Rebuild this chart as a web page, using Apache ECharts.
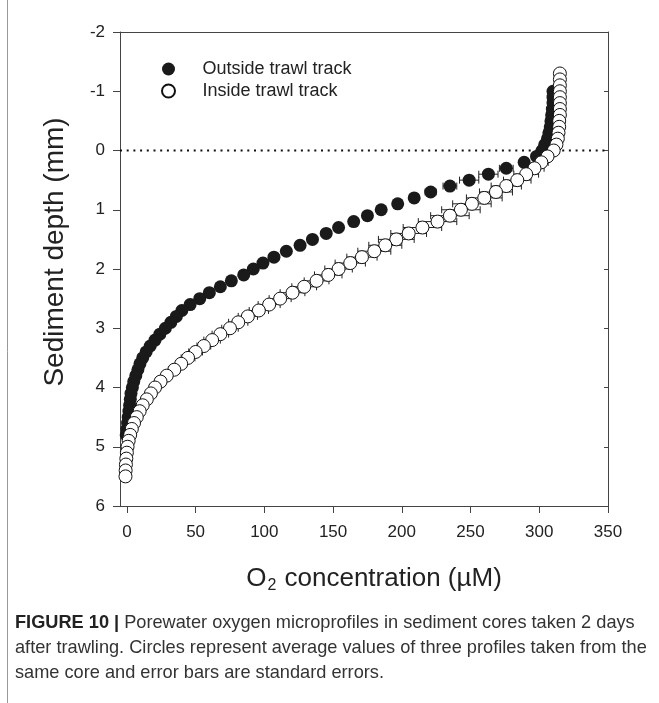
<!DOCTYPE html>
<html>
<head>
<meta charset="utf-8">
<script src="https://cdn.jsdelivr.net/npm/echarts@6/dist/echarts.min.js"></script>
<style>
	html, body { margin: 0; padding: 0; background: #fff; }
	#chart { width: 659px; height: 703px; }
</style>
</head>
<body>
<div id="chart"></div>
<script>
	// depth (mm) and O2 (µM), one point per 0.1 mm
	var outsideDepth = [-1.0, -0.9, -0.8, -0.7, -0.6, -0.5, -0.4, -0.3, -0.2, -0.1,
		0.0, 0.1, 0.2, 0.3, 0.4, 0.5, 0.6, 0.7, 0.8, 0.9,
		1.0, 1.1, 1.2, 1.3, 1.4, 1.5, 1.6, 1.7, 1.8, 1.9,
		2.0, 2.1, 2.2, 2.3, 2.4, 2.5, 2.6, 2.7, 2.8, 2.9,
		3.0, 3.1, 3.2, 3.3, 3.4, 3.5, 3.6, 3.7, 3.8, 3.9,
		4.0, 4.1, 4.2, 4.3, 4.4, 4.5, 4.6, 4.7, 4.8]
	var outsideO2 = [310, 310, 310, 309.5, 309, 308.5, 308, 307, 306, 304,
		302, 298, 289, 276, 263, 249, 235, 221, 209, 197,
		185, 175, 165, 154, 145, 135, 126, 116, 107, 99,
		92, 85, 76, 68, 60, 53, 46, 40, 36, 32,
		28, 24, 20.5, 17, 14, 11.5, 9.5, 8, 6.5, 5,
		4, 3, 2.5, 2, 1.5, 1, 0.5, 0, -0.5]
	var outsideErr = [1, 1, 1, 1, 1, 1, 1, 1, 1, 1,
		1, 2, 3, 5, 7, 7, 5, 4, 3, 3,
		3, 3, 3, 3, 3, 3, 3, 3, 3, 3,
		2, 2, 2, 2, 2, 2, 2, 2, 2, 2,
		2, 2, 2, 2, 2, 2, 1, 1, 1, 1,
		1, 1, 1, 1, 1, 1, 1, 1, 1]

	var insideDepth = [-1.3, -1.2, -1.1, -1.0, -0.9, -0.8, -0.7, -0.6, -0.5, -0.4,
		-0.3, -0.2, -0.1, 0.0, 0.1, 0.2, 0.3, 0.4, 0.5, 0.6,
		0.7, 0.8, 0.9, 1.0, 1.1, 1.2, 1.3, 1.4, 1.5, 1.6,
		1.7, 1.8, 1.9, 2.0, 2.1, 2.2, 2.3, 2.4, 2.5, 2.6,
		2.7, 2.8, 2.9, 3.0, 3.1, 3.2, 3.3, 3.4, 3.5, 3.6,
		3.7, 3.8, 3.9, 4.0, 4.1, 4.2, 4.3, 4.4, 4.5, 4.6,
		4.7, 4.8, 4.9, 5.0, 5.1, 5.2, 5.3, 5.4, 5.5]
	var insideO2 = [315, 315, 315, 315, 315, 315, 315, 315, 314.5, 314.5,
		314, 313.5, 312.5, 310.5, 306, 301.5, 296.5, 290.5, 284, 276,
		268.5, 260, 251, 243, 235, 226, 215, 205, 196, 188,
		180, 171, 162.5, 154, 146.5, 138, 129, 120.5, 111.5, 103.5,
		96, 88, 81, 75, 68, 62, 56, 50, 44.5, 39.5,
		34.5, 29, 24.5, 20.5, 17.5, 14.5, 11.5, 9.3, 7.2, 5.2,
		3.6, 2.4, 1.3, 0.5, 0, -0.4, -0.7, -0.9, -1]
	var insideErr = [1, 1, 1, 1, 1, 1, 1, 1, 1, 1,
		1.5, 1.5, 2, 2.5, 3, 5, 7, 9, 10, 11,
		12, 13, 14, 14, 14, 14, 14, 13, 13, 12,
		12, 11, 11, 10, 10, 9, 9, 9, 8, 8,
		7, 7, 7, 6, 6, 6, 5, 5, 5, 4,
		4, 3.5, 3, 3, 3, 2, 2, 2, 2, 2,
		2, 2, 2, 1, 1, 1, 1, 1, 1]

	var xTicks = [0, 50, 100, 150, 200, 250, 300, 350]
	var seriesNames = ['Outside trawl track', 'Inside trawl track']
	var captionLines = [
		['FIGURE 10 |', ' Porewater oxygen microprofiles in sediment cores taken 2 days'],
		['', 'after trawling. Circles represent average values of three profiles taken from the'],
		['', 'same core and error bars are standard errors.']
	]

	var font = 'Liberation Sans, Arial, sans-serif'

	function pts(xs, ys, es) {
		return ys.map(function (d, i) { return [xs[i], d, es[i]] })
	}

	function errorBars(params, api) {
		var v = api.value(0), d = api.value(1), e = api.value(2)
		var l = api.coord([v - e, d])
		var r = api.coord([v + e, d])
		var h = 3.5
		var st = { stroke: '#222', lineWidth: 1 }
		return {
			type: 'group',
			children: [
				{ type: 'line', shape: { x1: l[0], y1: l[1], x2: r[0], y2: r[1] }, style: st },
				{ type: 'line', shape: { x1: l[0], y1: l[1] - h, x2: l[0], y2: l[1] + h }, style: st },
				{ type: 'line', shape: { x1: r[0], y1: r[1] - h, x2: r[0], y2: r[1] + h }, style: st }
			]
		}
	}

	var captionGraphics = [{
		type: 'line',
		shape: { x1: 7.5, y1: 0, x2: 7.5, y2: 703 },
		style: { stroke: '#999', lineWidth: 1 }
	}]
	captionLines.forEach(function (ln, i) {
		captionGraphics.push({
			type: 'text',
			left: 15,
			top: 614 + i * 25,
			style: {
				text: (ln[0] ? '{b|' + ln[0] + '}' : '') + '{r|' + ln[1] + '}',
				rich: {
					b: { fontFamily: font, fontSize: 18.2, fontWeight: 'bold', fill: '#222' },
					r: { fontFamily: font, fontSize: 18.2, fill: '#333' }
				}
			}
		})
	})

	var chart = echarts.init(document.getElementById('chart'))
	chart.setOption({
		animation: false,
		textStyle: { fontFamily: font },
		grid: { left: 120, right: 51, top: 32, bottom: 197 },
		legend: {
			orient: 'vertical',
			left: 161,
			top: 60,
			padding: 0,
			itemWidth: 58,
			itemHeight: 13,
			itemGap: 4,
			data: [{ name: seriesNames[0], icon: 'circle' }, { name: seriesNames[1], icon: 'circle' }],
			textStyle: { fontSize: 18, color: '#222', lineHeight: 17 }
		},
		xAxis: [{
			type: 'value',
			min: -5,
			max: 350,
			name: '{a|O}{s|2}{a| concentration (µM)}',
			nameLocation: 'middle',
			nameGap: 58,
			nameTextStyle: {
				padding: [0, 0, 0, 20],
				rich: {
					a: { fontSize: 26, color: '#222', fontFamily: font },
					s: { fontSize: 16, color: '#222', fontFamily: font, padding: [14, 1, 0, 1] }
				}
			},
			axisLine: { show: true, onZero: false, lineStyle: { color: '#444', width: 1 } },
			axisTick: { show: true, length: 7, inside: false, customValues: xTicks, lineStyle: { color: '#444' } },
			axisLabel: { customValues: xTicks, fontSize: 17, color: '#222', margin: 18 },
			splitLine: { show: false }
		}, {
			type: 'value',
			position: 'top',
			min: -5,
			max: 350,
			axisLine: { show: true, onZero: false, lineStyle: { color: '#444', width: 1 } },
			axisTick: { show: false },
			axisLabel: { show: false },
			splitLine: { show: false }
		}],
		yAxis: [{
			type: 'value',
			inverse: true,
			min: -2,
			max: 6,
			interval: 1,
			name: 'Sediment depth (mm)',
			nameLocation: 'middle',
			nameGap: 51,
			nameTextStyle: { fontSize: 28, color: '#222', padding: [0, 0, 0, 34] },
			axisLine: { show: true, onZero: false, lineStyle: { color: '#444', width: 1 } },
			axisTick: { show: true, length: 7, inside: false, lineStyle: { color: '#444' } },
			axisLabel: { fontSize: 17, color: '#222', margin: 15 },
			splitLine: { show: false }
		}, {
			type: 'value',
			position: 'right',
			inverse: true,
			min: -2,
			max: 6,
			interval: 1,
			axisLine: { show: true, onZero: false, lineStyle: { color: '#444', width: 1 } },
			axisTick: { show: true, inside: true, length: 4, lineStyle: { color: '#444' } },
			axisLabel: { show: false },
			splitLine: { show: false }
		}],
		series: [{
			type: 'line',
			silent: true,
			symbol: 'none',
			data: [[-5, 0], [350, 0]],
			lineStyle: { color: '#111', width: 2, type: [2, 4.7] },
			z: 1
		}, {
			type: 'custom',
			silent: true,
			renderItem: errorBars,
			data: pts(outsideO2, outsideDepth, outsideErr),
			encode: { x: 0, y: 1 },
			z: 2
		}, {
			name: seriesNames[0],
			type: 'scatter',
			symbol: 'circle',
			symbolSize: 13,
			data: pts(outsideO2, outsideDepth, outsideErr),
			itemStyle: { color: '#1a1a1a', opacity: 1 },
			z: 3
		}, {
			type: 'custom',
			silent: true,
			renderItem: errorBars,
			data: pts(insideO2, insideDepth, insideErr),
			encode: { x: 0, y: 1 },
			z: 4
		}, {
			name: seriesNames[1],
			type: 'scatter',
			symbol: 'circle',
			symbolSize: 13,
			data: pts(insideO2, insideDepth, insideErr),
			itemStyle: { color: '#fff', borderColor: '#111', borderWidth: 1, opacity: 1 },
			z: 5
		}],
		graphic: captionGraphics
	})
</script>
</body>
</html>
